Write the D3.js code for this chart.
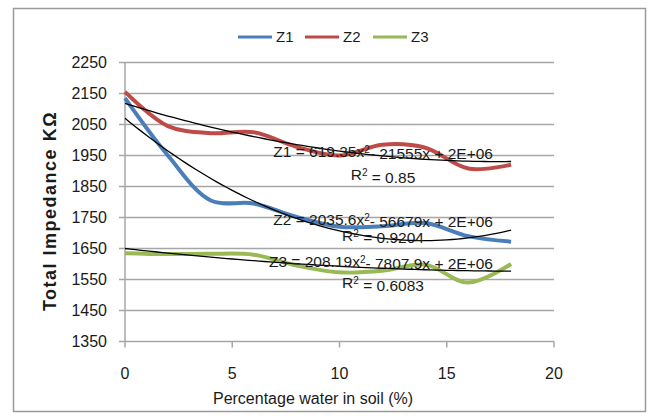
<!DOCTYPE html>
<html>
<head>
<meta charset="utf-8">
<script src="https://cdn.jsdelivr.net/npm/d3@7"></script>
<style>
  body { margin: 0; background: #fff; }
  text { font-family: "Liberation Sans", Arial, sans-serif; fill: #1a1a1a; }
</style>
</head>
<body>
<svg id="chart"></svg>
<script>
// data
var waterPct = [0, 2, 4, 6, 8, 10, 12, 14, 16, 18];
var z1 = [2135, 1950, 1805, 1795, 1752, 1720, 1722, 1732, 1690, 1672];
var z2 = [2155, 2045, 2022, 2025, 1978, 1950, 1985, 1975, 1908, 1920];
var z3 = [1635, 1632, 1633, 1630, 1595, 1573, 1578, 1598, 1540, 1600];
var seriesNames = ["Z1", "Z2", "Z3"];
var seriesColors = ["#4a7ebb", "#be4b48", "#98b954"];

var yTicks = [1350, 1450, 1550, 1650, 1750, 1850, 1950, 2050, 2150, 2250];
var xTicks = [0, 5, 10, 15, 20];

// poly trendlines (order 2), y = a x^2 + b x + c, in KOhm
var trendA = [0.61935, 2.0356, 0.20819];
var trendB = [-21.555, -56.679, -7.8079];
var trendC = [2118, 2070, 1650];
var eqCoef = ["619.35", "2035.6", "208.19"];
var eqLin = ["21555", "56679", "7807.9"];
var eqR2 = ["0.85", "0.9204", "0.6083"];

var W = 652, H = 420;
var svg = d3.select("#chart").attr("width", W).attr("height", H);

// outer frame
svg.append("rect")
  .attr("x", 13.5).attr("y", 8.5)
  .attr("width", 632).attr("height", 403)
  .attr("fill", "#fff")
  .attr("stroke", "#9a9a9a")
  .attr("stroke-width", 1.5);

var x = d3.scaleLinear().domain([0, 20]).range([125, 554]);
var y = d3.scaleLinear().domain([1350, 2250]).range([341.5, 62.5]);

// gridlines
svg.append("g")
  .selectAll("line")
  .data(yTicks)
  .enter()
  .append("line")
  .attr("x1", 119).attr("x2", 554)
  .attr("y1", function (d) { return y(d); })
  .attr("y2", function (d) { return y(d); })
  .attr("stroke", "#a6a6a6")
  .attr("stroke-width", 1.5);

// y axis line
svg.append("line")
  .attr("x1", 125).attr("x2", 125)
  .attr("y1", y(2250)).attr("y2", y(1350))
  .attr("stroke", "#a6a6a6").attr("stroke-width", 1.5);

// x ticks
svg.append("g")
  .selectAll("line")
  .data(xTicks)
  .enter()
  .append("line")
  .attr("x1", function (d) { return x(d); })
  .attr("x2", function (d) { return x(d); })
  .attr("y1", y(1350)).attr("y2", y(1350) + 6)
  .attr("stroke", "#a6a6a6").attr("stroke-width", 1.5);

// tick labels
svg.append("g")
  .selectAll("text")
  .data(yTicks)
  .enter()
  .append("text")
  .attr("x", 107)
  .attr("y", function (d) { return y(d); })
  .attr("dy", "0.35em")
  .attr("text-anchor", "end")
  .style("font-size", "16px")
  .text(function (d) { return d; });

svg.append("g")
  .selectAll("text")
  .data(xTicks)
  .enter()
  .append("text")
  .attr("x", function (d) { return x(d); })
  .attr("y", 373)
  .attr("dy", "0.35em")
  .attr("text-anchor", "middle")
  .style("font-size", "16px")
  .text(function (d) { return d; });

// axis titles
svg.append("text")
  .attr("x", 313).attr("y", 398)
  .attr("dy", "0.35em")
  .attr("text-anchor", "middle")
  .style("font-size", "16px")
  .text("Percentage water in soil (%)");

svg.append("text")
  .attr("transform", "translate(50,211) rotate(-90)")
  .attr("dy", "0.35em")
  .attr("text-anchor", "middle")
  .style("font-size", "18px")
  .style("font-weight", "bold")
  .style("letter-spacing", "1.5px")
  .text("Total Impedance KΩ");

// series
var line = d3.line()
  .x(function (d, i) { return x(waterPct[i]); })
  .y(function (d) { return y(d); })
  .curve(d3.curveCatmullRom.alpha(0.5));

var allSeries = [z1, z2, z3];
svg.append("g")
  .selectAll("path")
  .data(allSeries)
  .enter()
  .append("path")
  .attr("d", line)
  .attr("fill", "none")
  .attr("stroke", function (d, i) { return seriesColors[i]; })
  .attr("stroke-width", 4)
  .attr("stroke-linejoin", "round");

// trendlines
var tx = d3.range(0, 18.01, 0.25);
var trendLine = d3.line()
  .x(function (d) { return x(d[0]); })
  .y(function (d) { return y(d[1]); });

svg.append("g")
  .selectAll("path")
  .data(trendA)
  .enter()
  .append("path")
  .attr("d", function (a, i) {
    return trendLine(tx.map(function (v) {
      return [v, a * v * v + trendB[i] * v + trendC[i]];
    }));
  })
  .attr("fill", "none")
  .attr("stroke", "#000")
  .attr("stroke-width", 1.3);

// trend equations
var eqY = [151.5, 219.5, 261.5];
var r2Y = [175, 235.5, 283];
eqCoef.forEach(function (c, i) {
  var t = svg.append("text")
    .attr("x", 493).attr("y", eqY[i])
    .attr("dy", "0.35em")
    .attr("text-anchor", "end")
    .style("font-size", "15.5px");
  t.append("tspan").text("Z" + (i + 1) + " = " + c + "x");
  t.append("tspan").attr("dy", "-0.4em").style("font-size", "10px").text("2");
  t.append("tspan").attr("dy", "0.4em").text("- " + eqLin[i] + "x + 2E+06");

  var r = svg.append("text")
    .attr("x", 383).attr("y", r2Y[i])
    .attr("dy", "0.35em")
    .attr("text-anchor", "middle")
    .style("font-size", "15.5px");
  r.append("tspan").text("R");
  r.append("tspan").attr("dy", "-0.4em").style("font-size", "10px").text("2");
  r.append("tspan").attr("dy", "0.4em").text(" = " + eqR2[i]);
});

// legend
var legX = [238, 305, 373];
var lg = svg.append("g").selectAll("g")
  .data(seriesNames)
  .enter()
  .append("g")
  .attr("transform", function (d, i) { return "translate(" + legX[i] + ",37)"; });
lg.append("line")
  .attr("x1", 0).attr("x2", 34)
  .attr("stroke", function (d, i) { return seriesColors[i]; })
  .attr("stroke-width", 3);
lg.append("text")
  .attr("x", 38)
  .attr("dy", "0.35em")
  .style("font-size", "15px")
  .text(function (d) { return d; });
</script>
</body>
</html>
